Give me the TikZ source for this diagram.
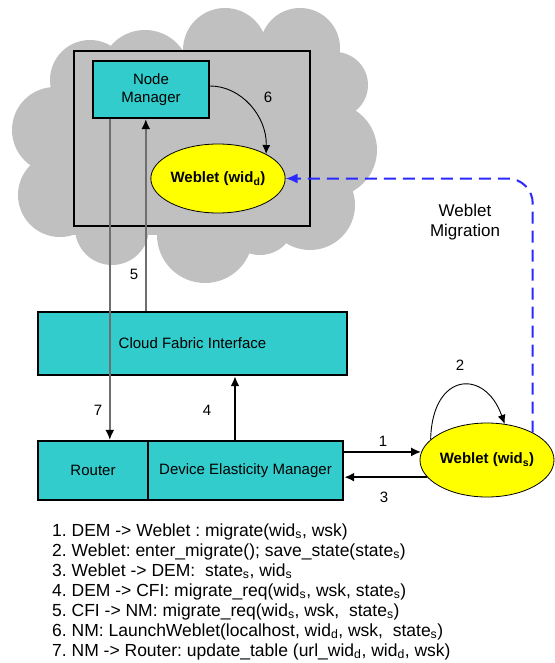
\documentclass[tikz,border=0pt]{standalone}
\usepackage{fontspec}
\setmainfont{Liberation Sans}
\usetikzlibrary{shapes.geometric,arrows.meta,calc}
\definecolor{tealfill}{RGB}{51,204,204}
\definecolor{cloudgray}{RGB}{192,192,192}
\definecolor{wyellow}{RGB}{255,255,0}
\definecolor{migblue}{RGB}{40,40,255}
\definecolor{linegray}{RGB}{110,110,110}
\frenchspacing
\begin{document}
\begin{tikzpicture}[x=1pt,y=-1pt,
  box/.style={draw=black,line width=2.4pt,fill=tealfill,inner sep=0pt,align=center,font=\fontsize{15}{18}\selectfont},
  weblet/.style={ellipse,draw=black,line width=0.8pt,fill=wyellow,inner sep=0pt,font=\fontsize{15}{18}\selectfont\bfseries},
  thickarrow/.style={draw=black,line width=2pt,-{Latex[length=10pt,width=9pt]}},
  thinarrow/.style={draw=black,line width=0.9pt,-{Latex[length=9pt,width=8pt]}},
  grayarrow/.style={draw=linegray,line width=1.5pt,-{Latex[length=10pt,width=9pt,color=black]}},
  migration/.style={draw=migblue,line width=2pt,dash pattern=on 12pt off 7pt,rounded corners=25pt,-{Latex[length=12pt,width=10pt]}},
  num/.style={inner sep=0pt,font=\fontsize{15}{18}\selectfont},
  listline/.style={anchor=base west,inner sep=0pt,font=\fontsize{17.5}{20}\selectfont},
]
\useasboundingbox (0,0) rectangle (554,663);
% cloud
\fill[cloudgray] (70,50) rectangle (340,235);
\fill[cloudgray] (225,50) circle[radius=42];
\fill[cloudgray] (300,48) circle[radius=40];
\fill[cloudgray] (145,75) circle[radius=45];
\fill[cloudgray] (90,80) circle[radius=40];
\fill[cloudgray] (335,85) circle[radius=33];
\fill[cloudgray] (330,150) circle[radius=47];
\fill[cloudgray] (310,205) circle[radius=45];
\fill[cloudgray] (260,220) circle[radius=35];
\fill[cloudgray] (205,235) circle[radius=48];
\fill[cloudgray] (112,228) circle[radius=37];
\fill[cloudgray] (55,130) circle[radius=43];
\fill[cloudgray] (60,195) circle[radius=42];
% inner host box
\node[draw=black,line width=2.4pt,minimum width=236pt,minimum height=175pt,inner sep=0pt] (vm) at (192,138.5) {};
% nodes
\node[box,minimum width=116pt,minimum height=57pt] (nm) at (151,89.5) {Node\\Manager};
\node[weblet,minimum width=132pt,minimum height=69pt] (wd) at (218,178.5) {Weblet (wid\textsubscript{d})};
\node[box,minimum width=309pt,minimum height=63pt] (cfi) at (192.5,343.5) {Cloud Fabric Interface};
\node[box,minimum width=110pt,minimum height=59pt] (rt) at (93,470.5) {Router};
\node[box,minimum width=195pt,minimum height=59pt] (dem) at (245.5,470.5) {Device Elasticity Manager};
\node[weblet,minimum width=134pt,minimum height=74pt] (ws) at (487,460) {Weblet (wid\textsubscript{s})};
% connectors
\coordinate (p7) at ($(nm.south west)+(18,0)$);
\coordinate (p5) at ($(nm.south west)+(54,0)$);
\coordinate (p4) at ($(dem.north)+(-10.5,0)$);
\draw[grayarrow] (p7) -- (p7 |- rt.north);
\draw[grayarrow] (p5 |- cfi.north) -- (p5);
\draw[thickarrow] (p4) -- (p4 |- cfi.south);
\draw[thickarrow] (dem.east |- ws.173) -- (ws.173);
\draw[thickarrow] (ws.196) -- (ws.196 -| dem.east);
\draw[thinarrow] (ws.160) .. controls (432,372) and (485,368) .. (ws.64);
\draw[thinarrow] ([yshift=3.5pt]nm.east) .. controls (241,86) and (267,116) .. (wd.27);
\draw[migration] (ws.31) |- (wd.east);
% labels
\node[num] (n1) at (383,441) {1};
\node[num] (n2) at (460,365) {2};
\node[num] (n3) at (384,497) {3};
\node[num] (n4) at (207,410) {4};
\node[num] (n5) at (134,274) {5};
\node[num] (n6) at (268,97) {6};
\node[num] (n7) at (98,410) {7};
\node[align=center,inner sep=0pt,font=\fontsize{17}{20}\selectfont] (mig) at (465,222) {Weblet\\Migration};
% list
\node[listline] (l1) at (52,536) {1. DEM -> Weblet : migrate(wid\textsubscript{s}, wsk)};
\node[listline] (l2) at (52,556) {2. Weblet: enter\_migrate(); save\_state(state\textsubscript{s})};
\node[listline] (l3) at (52,576) {3. Weblet -> DEM:\ \ state\textsubscript{s}, wid\textsubscript{s}};
\node[listline] (l4) at (52,596) {4. DEM -> CFI: migrate\_req(wid\textsubscript{s}, wsk, state\textsubscript{s})};
\node[listline] (l5) at (52,616) {5. CFI -> NM: migrate\_req(wid\textsubscript{s}, wsk,\ \ state\textsubscript{s})};
\node[listline] (l6) at (52,636) {6. NM: LaunchWeblet(localhost, wid\textsubscript{d}, wsk,\ \ state\textsubscript{s})};
\node[listline] (l7) at (52,656) {7. NM -> Router: update\_table (url\_wid\textsubscript{d}, wid\textsubscript{d}, wsk)};
\end{tikzpicture}
\end{document}
